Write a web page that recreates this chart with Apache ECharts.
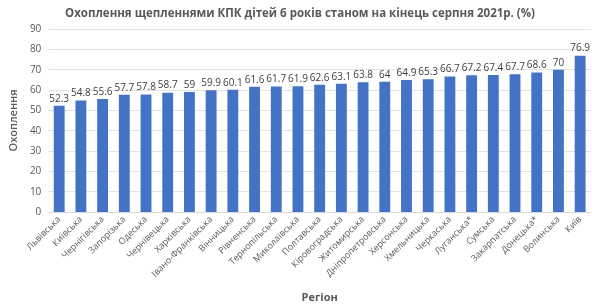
<!DOCTYPE html>
<html>
<head>
<meta charset="utf-8">
<script src="https://cdn.jsdelivr.net/npm/echarts@6/dist/echarts.min.js"></script>
<style>
  html, body { margin: 0; padding: 0; background: #fff; }
  #chart { width: 600px; height: 308px; }
</style>
</head>
<body>
<div id="chart"></div>
<script>
const regions = [
  'Львівська', 'Київська', 'Чернігівська', 'Запорізька', 'Одеська',
  'Чернівецька', 'Харківська', 'Івано-Франківська', 'Вінницька', 'Рівненська',
  'Тернопільська', 'Миколаївська', 'Полтавська', 'Кіровоградська', 'Житомирська',
  'Дніпропетровська', 'Херсонська', 'Хмельницька', 'Черкаська', 'Луганська*',
  'Сумська', 'Закарпатська', 'Донецька*', 'Волинська', 'Київ'
]
const coverage = [
  52.3, 54.8, 55.6, 57.7, 57.8,
  58.7, 59, 59.9, 60.1, 61.6,
  61.7, 61.9, 62.6, 63.1, 63.8,
  64, 64.9, 65.3, 66.7, 67.2,
  67.4, 67.7, 68.6, 70, 76.9
]

const chart = echarts.init(document.getElementById('chart'))
const font = 'Open Sans, DejaVu Sans, sans-serif'

chart.setOption({
  animation: false,
  textStyle: { fontFamily: font },
  title: {
    text: 'Охоплення щепленнями КПК дітей 6 років станом на кінець серпня 2021р. (%)',
    left: 'center',
    top: 3,
    textStyle: { fontSize: 11.5, fontWeight: 'bold', color: '#595959', fontFamily: font }
  },
  grid: { left: 41, right: 9, top: 29, bottom: 95 },
  xAxis: {
    type: 'category',
    data: regions,
    name: 'Регіон',
    nameLocation: 'middle',
    nameGap: 80,
    nameTextStyle: { fontSize: 11, fontWeight: 'bold', color: '#595959' },
    axisTick: { show: false },
    axisLine: { lineStyle: { color: '#d9d9d9' } },
    axisLabel: { rotate: 45, interval: 0, fontSize: 9, color: '#595959', margin: 6 }
  },
  yAxis: {
    type: 'value',
    min: 0,
    max: 90,
    interval: 10,
    name: 'Охоплення',
    nameLocation: 'middle',
    nameGap: 22,
    nameTextStyle: { fontSize: 11, fontWeight: 600, color: '#595959' },
    axisLabel: { fontSize: 10, color: '#595959', margin: 7 },
    splitLine: { lineStyle: { color: '#e3e3e3' } }
  },
  series: [{
    type: 'bar',
    data: coverage,
    barWidth: '50%',
    itemStyle: { color: '#4472c4' },
    label: {
      show: true,
      position: 'top',
      distance: 2,
      fontSize: 10,
      color: '#404040'
    }
  }]
})
</script>
</body>
</html>
